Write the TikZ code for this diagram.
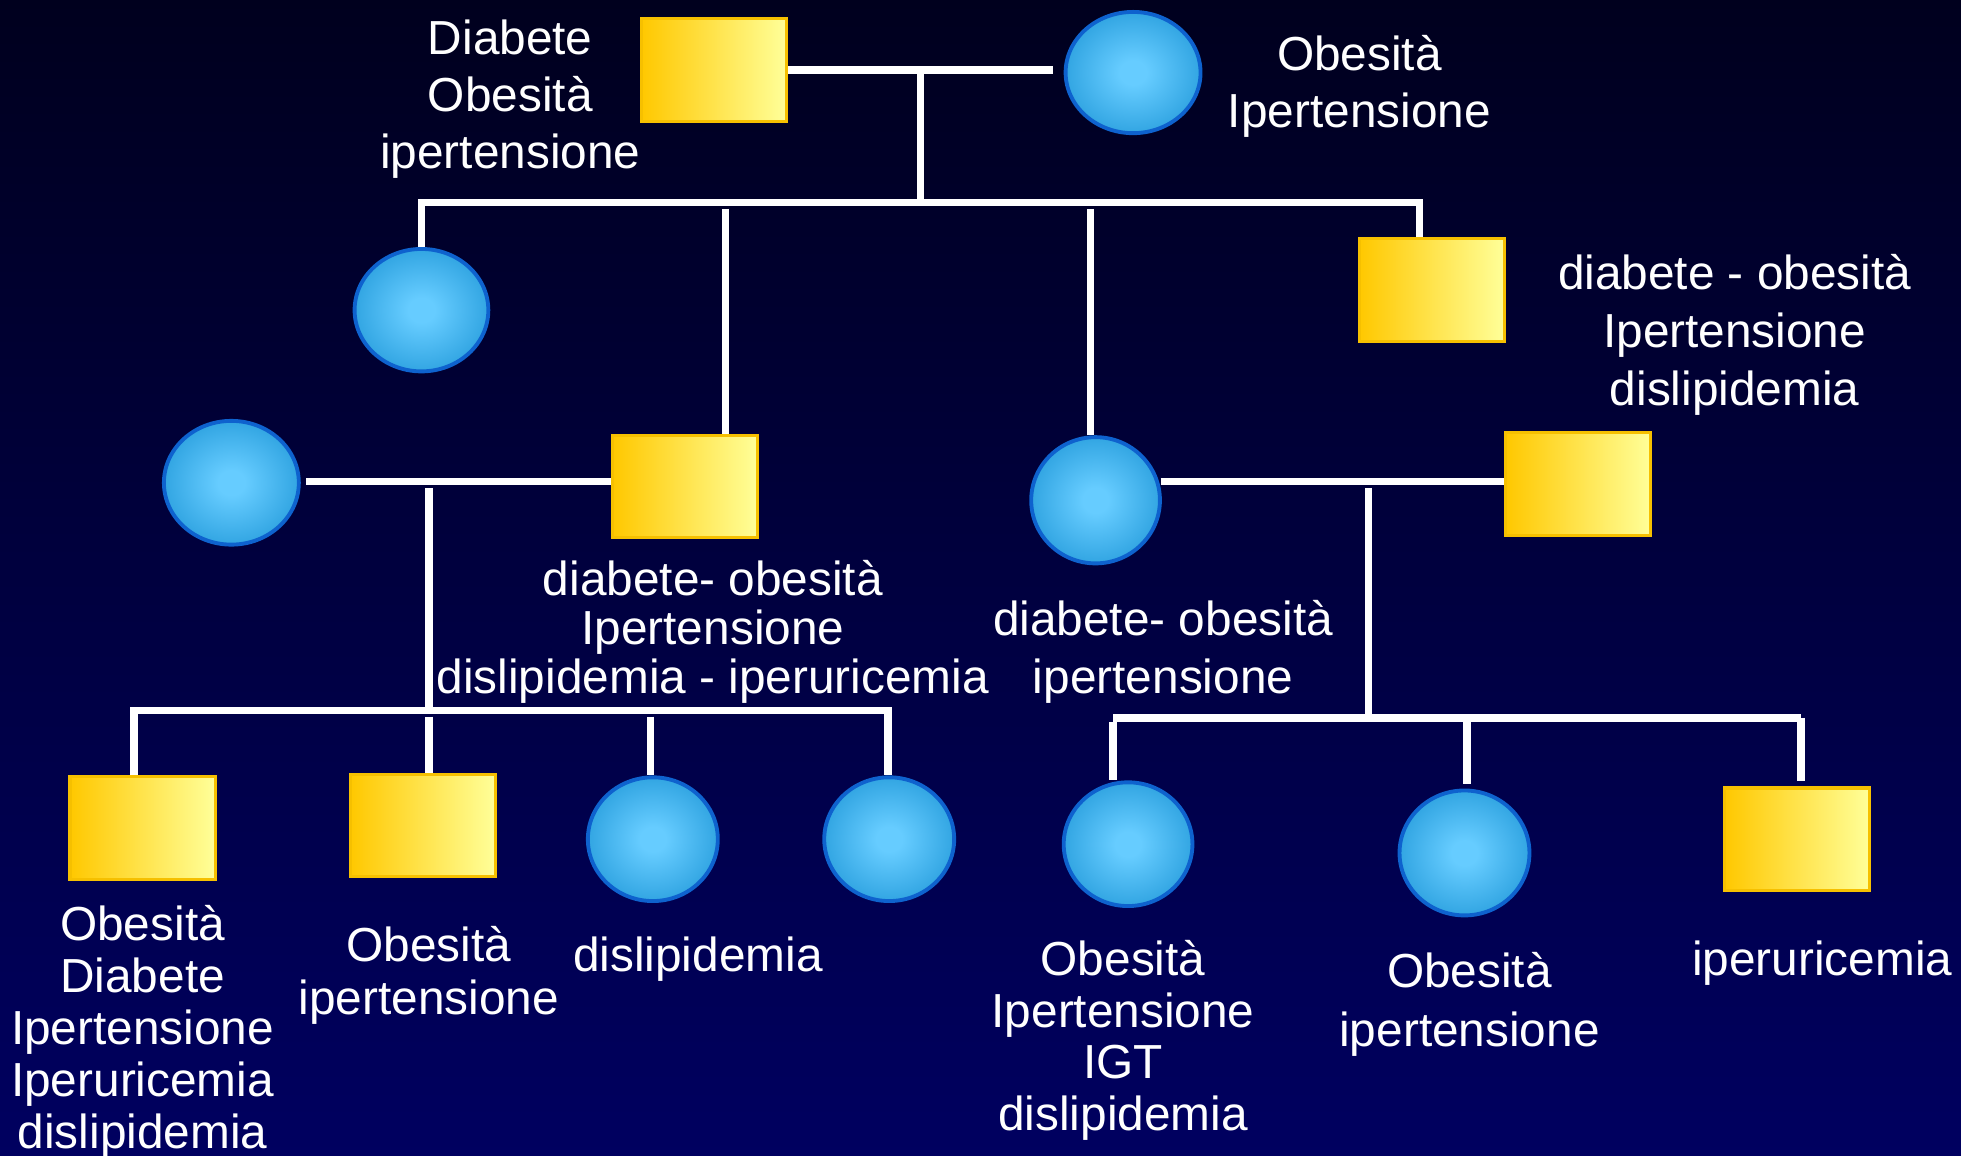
\documentclass[tikz,border=0pt]{standalone}
\usepackage{fontspec}
\setmainfont{Liberation Sans}
\usetikzlibrary{shapes.geometric}
\definecolor{bgtop}{RGB}{0,0,30}
\definecolor{bgbot}{RGB}{0,0,96}
\definecolor{cin}{RGB}{102,204,255}
\definecolor{cout}{RGB}{24,146,212}
\definecolor{cbord}{RGB}{14,98,206}
\definecolor{sqleft}{RGB}{255,200,0}
\definecolor{sqright}{RGB}{255,255,153}
\definecolor{sqbord}{RGB}{246,192,0}
\pgfdeclareradialshading{ballshade}{\pgfpoint{0bp}{0bp}}{color(0bp)=(cin); color(5bp)=(cin); color(35bp)=(cout); color(50bp)=(cout)}
\begin{document}
\begin{tikzpicture}[x=0.012506cm,y=-0.012506cm,
  sq/.style={rectangle,draw=sqbord,line width=0.9pt,left color=sqleft,right color=sqright,
    minimum width=1.451cm,minimum height=1.0255cm,inner sep=0pt},
  fem/.style={ellipse,draw=cbord,line width=1.1pt,shading=ballshade,
    minimum width=1.32cm,minimum height=1.235cm,inner sep=0pt},
  ped/.style={draw=white,line width=2.1pt},
  lab/.style={text=white,align=center,inner sep=0pt},
  fs/.style={font=\fontsize{13.6}{#1}\selectfont}]
\useasboundingbox (0,0) rectangle (1568,924);
\fill[top color=bgtop,bottom color=bgbot] (0,0) rectangle (1568,924);

% nodes
\node[sq]  (S1) at (571,56) {};
\node[fem,minimum width=1.35cm,minimum height=1.213cm] (C1) at (906,58) {};
\node[fem,minimum width=1.338cm,minimum height=1.225cm] (C2) at (337,248) {};
\node[sq]  (S2) at (1145,232) {};
\node[fem,minimum width=1.35cm,minimum height=1.238cm] (C3) at (185,386) {};
\node[sq]  (S3) at (548,389) {};
\node[fem,minimum width=1.288cm,minimum height=1.263cm] (C4) at (876,400) {};
\node[sq]  (S4) at (1262,387) {};
\node[sq]  (S5) at (114,662) {};
\node[sq]  (S6) at (338,660) {};
\node[fem,minimum width=1.3cm,minimum height=1.238cm] (C5) at (522,671) {};
\node[fem,minimum width=1.3cm,minimum height=1.238cm] (C6) at (711,671) {};
\node[fem,minimum width=1.288cm,minimum height=1.238cm] (C7) at (902,675) {};
\node[fem,minimum width=1.3cm,minimum height=1.25cm] (C8) at (1171,682) {};
\node[sq]  (S7) at (1437,671) {};

% labels
\node[lab,fs=16.2pt] (L1) at (408,79) {Diabete\\Obesità\\ipertensione};
\node[lab,fs=16.4pt] (L2) at (1087,69) {Obesità\\Ipertensione};
\node[lab,fs=16.5pt] (L3) at (1387,268) {diabete - obesità\\Ipertensione\\dislipidemia};
\node[lab,fs=13.9pt] (L4) at (570,505) {diabete- obesità\\Ipertensione\\dislipidemia - iperuricemia};
\node[lab,fs=16.4pt] (L5) at (930,521) {diabete- obesità\\ipertensione};
\node[lab,fs=14.8pt] (L6) at (114,825) {Obesità\\Diabete\\Ipertensione\\Iperuricemia\\dislipidemia};
\node[lab,fs=14.9pt] (L7) at (343,780) {Obesità\\ipertensione};
\node[lab,fs=16pt]   (L8) at (558,767) {dislipidemia};
\node[lab,fs=14.7pt] (L9) at (898,832) {Obesità\\Ipertensione\\IGT\\dislipidemia};
\node[lab,fs=16.7pt] (L10) at (1175,803) {Obesità\\ipertensione};
\node[lab,fs=16pt]   (L11) at (1457,770) {iperuricemia};

% junction coordinates
\coordinate (m1) at (736,56);
\coordinate (s1L) at (337,162);
\coordinate (s1M) at (736,162);
\coordinate (s1R) at (1135,162);
\coordinate (d2) at (580,167);
\coordinate (d3) at (872,167);
\coordinate (m2L) at (245,385);
\coordinate (m2d) at (343,390);
\coordinate (s2L) at (107,568);
\coordinate (s2R) at (710,568);
\coordinate (d4) at (343,573);
\coordinate (d5) at (520,573);
\coordinate (m3L) at (928,385);
\coordinate (m3d) at (1094,390);
\coordinate (s3L) at (890,574);
\coordinate (s3R) at (1440,574);
\coordinate (d6) at (890,577);
\coordinate (d7) at (1173,577);

% generation I
\draw[ped] (S1.east) -- ([xshift=-0.11cm]C1.west |- S1.east);
\draw[ped] (m1) -- (s1M);
\draw[ped] (C2.north) |- (s1R) -- (s1R |- S2.north);
\draw[ped] (d2) -- (d2 |- S3.north);
\draw[ped] (d3) -- (d3 |- C4.north);

% generation II left
\draw[ped] (m2L) -- (m2L -| S3.west);
\draw[ped] (m2d) -- (m2d |- s2L);
\draw[ped] (s2L |- S5.north) -- (s2L) -- (s2R) -- (s2R |- C6.north);
\draw[ped] (d4) -- (d4 |- S6.north);
\draw[ped] (d5) -- (d5 |- C5.north);

% generation II right
\draw[ped] (m3L) -- (m3L -| S4.west);
\draw[ped] (m3d) -- ([yshift=0.03cm]m3d |- s3L);
\draw[ped] (s3L) -- (s3R);
\draw[ped] (d6) -- (d6 |- C7.north);
\draw[ped] (d7) -- ([yshift=0.05cm]d7 |- C8.north);
\draw[ped] (s3R) -- ([yshift=0.05cm]s3R |- S7.north);
\end{tikzpicture}
\end{document}
